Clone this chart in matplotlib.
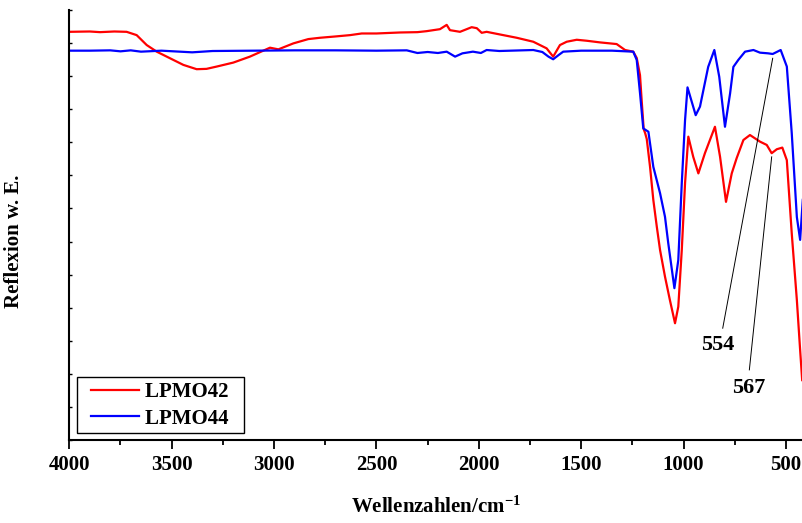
import numpy as np
import matplotlib
matplotlib.use("Agg")
import matplotlib.pyplot as plt
from matplotlib.ticker import MultipleLocator
from matplotlib.legend_handler import HandlerLine2D

plt.rcParams['font.family'] = ['Liberation Serif', 'DejaVu Serif']
plt.rcParams['font.weight'] = 'bold'
plt.rcParams['axes.labelweight'] = 'bold'
plt.rcParams['mathtext.fontset'] = 'custom'
plt.rcParams['mathtext.rm'] = 'Liberation Serif:bold'
plt.rcParams['mathtext.it'] = 'Liberation Serif:bold'
plt.rcParams['mathtext.bf'] = 'Liberation Serif:bold'

# LPMO42 (red) -- wavenumber / reflectance (arb. units)
wn_42 = [4000, 3900, 3850, 3780, 3720, 3671, 3622, 3573, 3508, 3443, 3378, 3330,
         3280, 3199, 3118, 3020, 2979, 2906, 2833, 2776, 2700, 2629, 2572, 2500,
         2385, 2300, 2255, 2190, 2157, 2141, 2092, 2035, 2010, 1986, 1962, 1897,
         1815, 1734, 1669, 1637, 1604, 1571, 1522, 1473, 1408, 1327, 1286, 1246,
         1229, 1213, 1205, 1195, 1188, 1180, 1164, 1148, 1131, 1115, 1091, 1067,
         1042, 1026, 1009, 993, 977, 953, 928, 896, 847, 822, 793, 765, 741, 708,
         676, 627, 594, 570, 545, 518, 496, 472, 447, 431, 421]
r_42 = [12.34, 12.35, 12.33, 12.35, 12.34, 12.24, 11.94, 11.74, 11.54, 11.34, 11.21, 11.22,
        11.29, 11.41, 11.59, 11.86, 11.81, 11.99, 12.12, 12.16, 12.20, 12.24, 12.29, 12.29,
        12.32, 12.33, 12.36, 12.42, 12.55, 12.39, 12.34, 12.48, 12.45, 12.31, 12.34, 12.26,
        12.16, 12.04, 11.84, 11.59, 11.94, 12.04, 12.10, 12.07, 12.02, 11.97, 11.79, 11.74,
        11.55, 11.03, 10.28, 9.40, 9.28, 9.10, 8.26, 7.26, 6.45, 5.74, 4.94, 4.23,
        3.53, 4.03, 5.74, 7.76, 9.17, 8.56, 8.06, 8.67, 9.47, 8.56, 7.20, 8.06, 8.52, 9.07,
        9.22, 9.02, 8.92, 8.67, 8.79, 8.84, 8.46, 6.25, 4.23, 2.72, 1.81]

# LPMO44 (blue)
wn_44 = [4000, 3900, 3800, 3750, 3700, 3650, 3550, 3400, 3300, 3100, 2900, 2700,
         2500, 2352, 2300, 2250, 2200, 2157, 2116, 2080, 2029, 1990, 1962, 1900,
         1734, 1690, 1660, 1637, 1610, 1588, 1500, 1350, 1246, 1229, 1213, 1197,
         1172, 1148, 1115, 1091, 1075, 1045, 1026, 1009, 993, 981, 941, 920, 880,
         850, 826, 798, 773, 757, 733, 700, 659, 627, 588, 565, 526, 496, 472,
         447, 431, 418]
r_44 = [11.77, 11.77, 11.78, 11.75, 11.78, 11.74, 11.77, 11.72, 11.76, 11.77, 11.78, 11.78,
        11.77, 11.78, 11.70, 11.73, 11.70, 11.74, 11.59, 11.69, 11.74, 11.70, 11.79, 11.76,
        11.79, 11.73, 11.59, 11.51, 11.64, 11.74, 11.77, 11.77, 11.74, 11.49, 10.49, 9.42,
        9.32, 8.26, 7.46, 6.75, 5.95, 4.59, 5.44, 7.76, 9.67, 10.66, 9.82, 10.08, 11.28,
        11.79, 10.98, 9.47, 10.48, 11.28, 11.49, 11.74, 11.79, 11.71, 11.69, 11.67, 11.79, 11.29, 9.28,
        6.74, 6.05, 7.26]

fig = plt.figure(figsize=(8.03, 5.23), dpi=100)
ax = fig.add_axes([0.0863, 0.1587, 0.9137, 0.8222])

ax.plot(wn_42, r_42, color='#ff0000', lw=1.6, label='LPMO42  ')
ax.plot(wn_44, r_44, color='#0000ff', lw=1.6, label='LPMO44  ')

# peak annotations
ax.plot([565, 809], [11.54, 3.38], color='black', lw=0.7)
ax.text(834, 2.87, '554', ha='center', va='center', fontsize=16)
ax.plot([570, 679], [8.56, 2.12], color='black', lw=0.7)
ax.text(681, 1.58, '567', ha='center', va='center', fontsize=16)

ax.set_xlim(4000, 417)
ax.set_ylim(0, 13)
ax.xaxis.set_major_locator(MultipleLocator(500))
ax.xaxis.set_minor_locator(MultipleLocator(250))
ax.yaxis.set_major_locator(MultipleLocator(1))
ax.set_yticklabels([])
ax.tick_params(axis='x', which='major', direction='out', length=6.5, width=1.3,
               labelsize=15, pad=4)
ax.tick_params(axis='x', which='minor', direction='out', length=3.6, width=1.3)
ax.tick_params(axis='y', direction='in', length=2.5, width=1)

for s in ['top', 'right']:
    ax.spines[s].set_visible(False)
for s in ['left', 'bottom']:
    ax.spines[s].set_linewidth(1.5)

ax.set_xlabel('Wellenzahlen/cm$^{-1}$', fontsize=15, labelpad=16)
ax.set_ylabel('Reflexion w. E.', fontsize=15)
ax.yaxis.set_label_coords(-0.062, 0.461)

leg = ax.legend(loc='lower left', bbox_to_anchor=(0.0109, 0.0156), borderaxespad=0,
                fontsize=15, handlelength=2.75, handletextpad=0.3, labelspacing=0.32,
                borderpad=0.22, fancybox=False, framealpha=1, edgecolor='black',
                handler_map={plt.Line2D: HandlerLine2D(xpad=0.45)})
leg.get_frame().set_linewidth(1.0)

fig.savefig('out.png', dpi=100)
